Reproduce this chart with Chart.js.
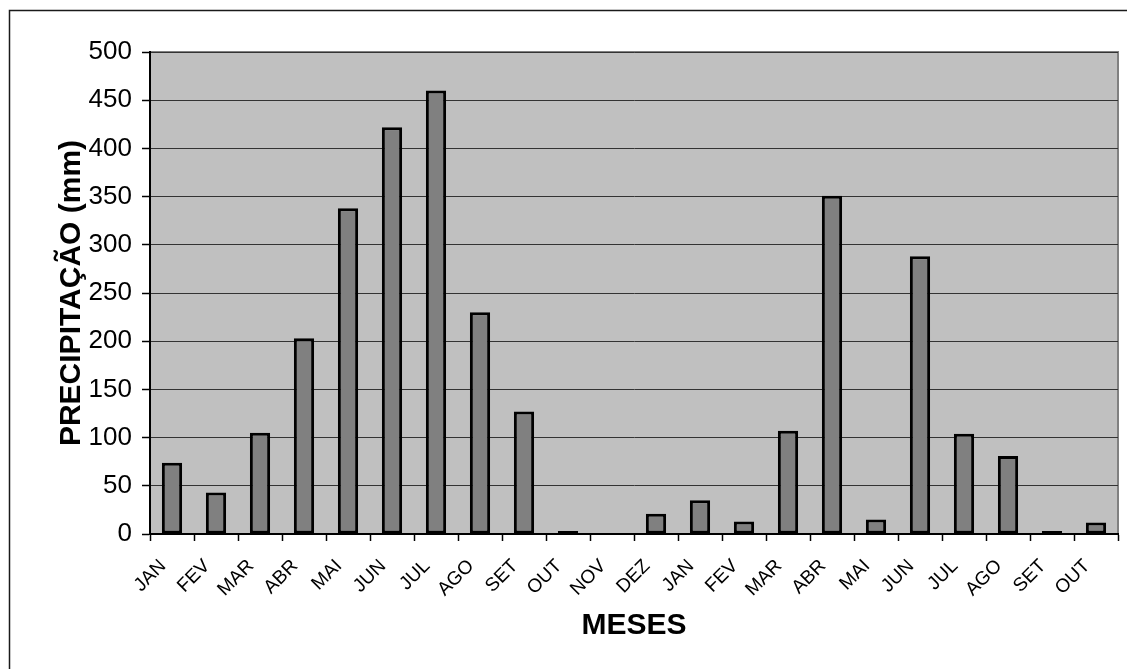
<!DOCTYPE html>
<html>
<head>
<meta charset="utf-8">
<script src="https://cdn.jsdelivr.net/npm/chart.js@4"></script>
<style>
  html, body { margin: 0; padding: 0; background: #fff; }
  #wrap { width: 1127px; height: 669px; }
</style>
</head>
<body>
<div id="wrap"><canvas id="chart" width="1127" height="669"></canvas></div>
<script>
/* ===== DATA ===== */
const months = ["JAN","FEV","MAR","ABR","MAI","JUN","JUL","AGO","SET","OUT","NOV","DEZ",
                "JAN","FEV","MAR","ABR","MAI","JUN","JUL","AGO","SET","OUT"];
const rain = [74, 43, 105, 203, 338, 422, 460, 230, 127, 3, 0, 21,
              35, 13, 107, 351, 15, 288, 104, 81, 3, 12];
const yTicks = [0, 50, 100, 150, 200, 250, 300, 350, 400, 450, 500];

/* ===== PLOT BACKGROUND + FRAME ===== */
const frame = {
  id: "frame",
  beforeDraw(chart) {
    const { ctx, chartArea: a } = chart;
    ctx.save();
    ctx.fillStyle = "#fff";
    ctx.fillRect(0, 0, chart.width, chart.height);
    // outer border (only top/left visible)
    ctx.strokeStyle = "#1a1a1a";
    ctx.lineWidth = 1.5;
    ctx.beginPath();
    ctx.moveTo(9.5, chart.height);
    ctx.lineTo(9.5, 10.5);
    ctx.lineTo(chart.width, 10.5);
    ctx.stroke();
    // plot area
    ctx.fillStyle = "#c0c0c0";
    ctx.fillRect(a.left, a.top, a.right - a.left, a.bottom - a.top);
    ctx.strokeStyle = "#808080";
    ctx.lineWidth = 2;
    ctx.beginPath();
    ctx.moveTo(a.left, a.top);
    ctx.lineTo(a.right, a.top);
    ctx.lineTo(a.right, a.bottom);
    ctx.stroke();
    ctx.restore();
  }
};

const font = "Liberation Sans, Arial, sans-serif";

new Chart(document.getElementById("chart"), {
  type: "bar",
  data: {
    labels: months,
    datasets: [{
      data: rain,
      backgroundColor: "#808080",
      borderColor: "#000",
      borderWidth: 3,
      borderSkipped: false,
      categoryPercentage: 1,
      barPercentage: 0.46
    }]
  },
  options: {
    responsive: false,
    animation: false,
    layout: { padding: { top: 52, right: 9, left: 0, bottom: 0 } },
    plugins: { legend: { display: false }, tooltip: { enabled: false } },
    scales: {
      x: {
        offset: true,
        grid: { offset: true, drawOnChartArea: false, tickLength: 7, tickColor: "#000", tickWidth: 1.5 },
        border: { color: "#000", width: 2 },
        ticks: {
          color: "#000", maxRotation: 45, minRotation: 45, autoSkip: false,
          padding: 14, labelOffset: -9,
          font: { family: font, size: 19 }
        },
        title: {
          display: true, text: "MESES", color: "#000",
          font: { family: font, size: 30, weight: "bold" },
          padding: { top: 0, bottom: 25 }
        },
        afterFit(s) { s.height = 135; }
      },
      y: {
        min: 0, max: 500,
        afterBuildTicks(s) { s.ticks = yTicks.map(v => ({ value: v })); },
        grid: { color: "#333", lineWidth: 1, tickLength: 8, tickColor: "#000", tickWidth: 1.5 },
        border: { color: "#000", width: 2 },
        ticks: {
          color: "#000", padding: 10,
          font: { family: font, size: 26 }
        },
        title: {
          display: true, text: "PRECIPITAÇÃO (mm)", color: "#000",
          font: { family: font, size: 30, weight: "bold" },
          padding: { top: 54, bottom: 0 }
        },
        afterFit(s) { s.width = 150; }
      }
    }
  },
  plugins: [frame]
});
</script>
</body>
</html>
